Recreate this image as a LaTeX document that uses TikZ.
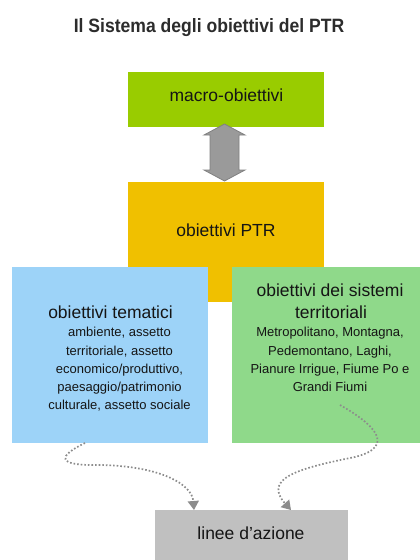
\documentclass[tikz,border=0pt]{standalone}
\usepackage{fontspec}
\setmainfont{Liberation Sans}
\usetikzlibrary{arrows.meta}
\definecolor{macrogreen}{HTML}{99CC00}
\definecolor{ptryellow}{HTML}{F0C000}
\definecolor{tblue}{HTML}{9DD3F8}
\definecolor{sgreen}{HTML}{8FD98A}
\definecolor{lgray}{HTML}{C0C0C0}
\definecolor{agray}{HTML}{9A9A9A}
\definecolor{aborder}{HTML}{808080}
\definecolor{txt}{HTML}{151515}
\definecolor{dotc}{HTML}{8C8C8C}
\tikzset{
  box/.style={rectangle, inner sep=0pt, outer sep=0pt, minimum width=196pt},
  maintxt/.style={inner sep=0pt, anchor=base, text=txt, font=\fontsize{17.5}{21}\selectfont},
  subtxt/.style={inner sep=0pt, anchor=base, text=txt, font=\fontsize{13}{15}\selectfont},
  dotline/.style={draw=dotc, line width=1.7pt, dash pattern=on 1.6pt off 2pt, -{Triangle[width=11pt,length=9pt,fill=dotc]}}
}
\begin{document}
\begin{tikzpicture}[x=1pt,y=-1pt]
\clip (0,0) rectangle (420,560);
\fill[white] (0,0) rectangle (420,560);
% title
\node[inner sep=0pt, anchor=base, text=txt!90, font=\bfseries\fontsize{19.3}{22}\selectfont] (title) at (209,32) {\scalebox{0.91}[1]{Il Sistema degli obiettivi del PTR}};
% boxes
\node[box, fill=macrogreen, minimum height=55pt] (macro) at (226,99.5) {};
\node[box, fill=ptryellow, minimum height=120pt] (ptr) at (226,242) {};
\node[box, fill=tblue, minimum height=176pt] (tem) at (110,355) {};
\node[box, fill=sgreen, minimum height=176pt] (sis) at (330,355) {};
\node[box, fill=lgray, minimum width=193pt, minimum height=55pt] (linee) at (251.5,537.5) {};
% double arrow between macro and ptr
\draw[fill=agray, draw=aborder, line width=0.8pt, line join=miter]
  (224.5,124) -- (245,135) -- (239,135) -- (239,170) -- (245,170) -- (224.5,181)
  -- (204,170) -- (210,170) -- (210,135) -- (204,135) -- cycle;
% texts
\node[maintxt] (tmacro) at (226.5,101) {macro-obiettivi};
\node[maintxt] (tptr) at (226,236.5) {obiettivi PTR};
\node[maintxt] (ttem) at (110.5,318) {obiettivi tematici};
\node[maintxt] (tsis1) at (330,296) {obiettivi dei sistemi};
\node[maintxt] (tsis2) at (331,318) {territoriali};
\node[maintxt] (tlinee) at (251,539) {linee d'azione};
\node[subtxt] (b1) at (119.5,336.5) {ambiente, assetto};
\node[subtxt] (b2) at (119.5,355) {territoriale, assetto};
\node[subtxt] (b3) at (119.5,373.5) {economico/produttivo,};
\node[subtxt] (b4) at (119.5,391.5) {paesaggio/patrimonio};
\node[subtxt] (b5) at (119.5,409.5) {culturale, assetto sociale};
\node[subtxt] (g1) at (330,336.5) {Metropolitano, Montagna,};
\node[subtxt] (g2) at (330,355) {Pedemontano, Laghi,};
\node[subtxt] (g3) at (330,373.5) {Pianure Irrigue, Fiume Po e};
\node[subtxt] (g4) at (330,391.5) {Grandi Fiumi};
% connectors
\coordinate (s1) at (85,443);
\coordinate (e1) at (194,510);
\coordinate (s2) at (340,405);
\coordinate (e2) at (291,510);
\draw[dotline] (s1) .. controls (58,456) and (55,466) .. (100,465)
  .. controls (160,466) and (192,484) .. (e1);
\draw[dotline] (s2) .. controls (372,423) and (398,446) .. (355,457)
  .. controls (300,468) and (262,478) .. (e2);
\end{tikzpicture}
\end{document}
